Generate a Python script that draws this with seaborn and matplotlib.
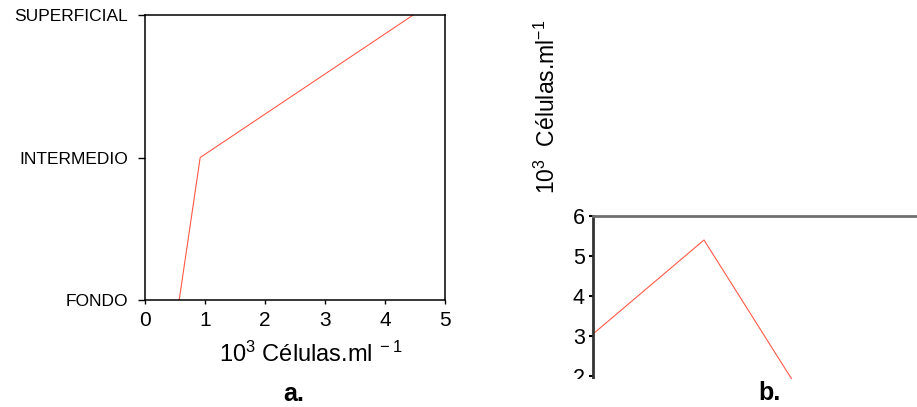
import numpy as np
import pandas as pd
import seaborn as sns
import matplotlib.pyplot as plt
from matplotlib.patches import Rectangle

# panel a: cell density per depth zone
zonas = ["FONDO", "INTERMEDIO", "SUPERFICIAL"]
celulas_a = [0.57, 0.92, 4.47]

# panel b: cell density per sampling (only part visible)
muestreos = [1, 2, 3]
celulas_b = [3.05, 5.4, 1.0]

sns.set_style("white")
plt.rcParams["font.family"] = ["Liberation Sans", "DejaVu Sans"]
plt.rcParams["mathtext.fontset"] = "custom"
plt.rcParams["mathtext.rm"] = "Liberation Sans"
plt.rcParams["mathtext.it"] = "Liberation Sans:italic"
plt.rcParams["text.color"] = "black"
plt.rcParams["xtick.color"] = "black"
plt.rcParams["ytick.color"] = "black"

line_color = "#ff5a48"

fig = plt.figure(figsize=(9.17, 4.07), dpi=100)

# ---- panel a ----
ax1 = fig.add_axes([145 / 917, 1 - 300 / 407, 300 / 917, 285 / 407])
df_a = pd.DataFrame({"celulas": celulas_a, "zona": range(len(zonas))})
sns.lineplot(data=df_a, x="celulas", y="zona", sort=False,
             color=line_color, linewidth=0.8, ax=ax1)
ax1.set_xlim(0, 5)
ax1.set_ylim(0, 2)
ax1.set_yticks(range(len(zonas)))
ax1.set_yticklabels(zonas, fontsize=12.5)
ax1.set_xticks(range(6))
ax1.tick_params(axis="x", labelsize=15, length=3, width=1, direction="out",
                bottom=True, pad=5, colors="black")
ax1.tick_params(axis="y", length=5, width=1, direction="out", left=True,
                pad=7, colors="black")
ax1.set_xlabel("")
ax1.set_ylabel("")
for s in ax1.spines.values():
    s.set_color("black")
    s.set_linewidth(1.1)

fig.text(311 / 917, 1 - 354 / 407,
         "10$^{3}$ Células.ml$^{\\ -1}$", fontsize=17,
         ha="center", va="center")
fig.text(294 / 917, 1 - 394 / 407, "a.", fontsize=18, fontweight="bold",
         ha="center", va="center")

# ---- panel b (cropped) ----
ax2 = fig.add_axes([593 / 917, 1 - 416 / 407, 333 / 917, 200 / 407])
df_b = pd.DataFrame({"muestreo": muestreos, "celulas": celulas_b})
sns.lineplot(data=df_b, x="muestreo", y="celulas",
             color=line_color, linewidth=0.8, ax=ax2)
ax2.set_xlim(1, 4)
ax2.set_ylim(1, 6)
ax2.set_yticks([2, 3, 4, 5, 6])
ax2.set_xticks([])
ax2.tick_params(axis="y", labelsize=15.5, length=3, width=1.5,
                direction="out", left=True, pad=3, colors="black")
ax2.set_xlabel("")
ax2.set_ylabel("")
ax2.spines["left"].set_color("#333333")
ax2.spines["left"].set_linewidth(2)
ax2.spines["top"].set_color("#707070")
ax2.spines["top"].set_linewidth(2)
ax2.spines["right"].set_visible(False)
ax2.spines["bottom"].set_visible(False)

# the original panel b is cut off at the bottom
fig.patches.append(Rectangle((0.56, 0), 0.44, (407 - 379) / 407,
                             transform=fig.transFigure, facecolor="white",
                             edgecolor="none", zorder=5))

fig.text(547 / 917, 1 - 107 / 407, "10$^{3}$  Células.ml$^{-1}$",
         fontsize=16.5, rotation=90, ha="center", va="center")
fig.text(769 / 917, 1 - 393 / 407, "b.", fontsize=18, fontweight="bold",
         ha="center", va="center", zorder=6)

fig.savefig("out.png", dpi=100)
